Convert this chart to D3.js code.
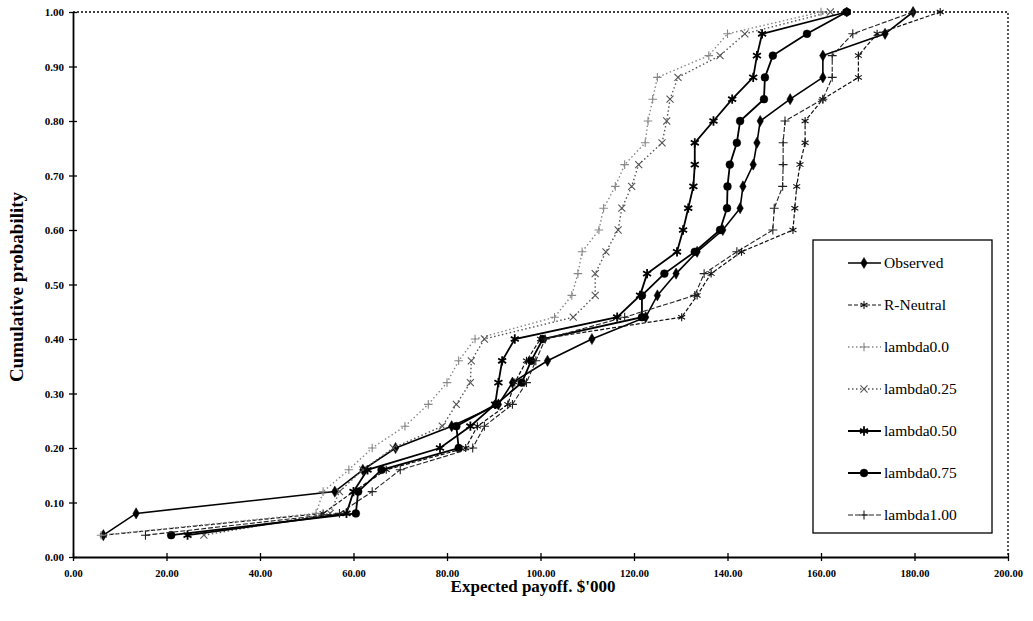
<!DOCTYPE html>
<html lang="en">
<head>
  <meta charset="UTF-8">
  <title>Cumulative probability</title>
  <style>
    body { margin: 0; background: #fff; }
    text { font-family: "Liberation Serif", "DejaVu Serif", serif; fill: #000; }
  </style>
</head>
<body>
  <svg id="svg" width="1033" height="621"></svg>

  <script src="https://d3js.org/d3.v7.min.js"></script>
  <script>
    // cumulative probability levels (same for every series)
    const probs = [0.04, 0.08, 0.12, 0.16, 0.20, 0.24, 0.28, 0.32, 0.36, 0.40, 0.44, 0.48, 0.52,
      0.56, 0.60, 0.64, 0.68, 0.72, 0.76, 0.80, 0.84, 0.88, 0.92, 0.96, 1.00]

    // expected payoff ($'000) at each level
    const observed = [6.5, 13.5, 56, 62, 69, 81, 91, 94, 101.5, 111, 122.5, 125, 129,
      133.5, 139, 142.7, 143.3, 145.5, 146.3, 147, 153.4, 160.4, 160.4, 173.7, 179.7]
    const rNeutral = [6.5, 53.5, 60, 67, 84, 86.5, 93, 94.5, 97, 100, 130.2, 133.5, 136.5,
      143, 154, 154.4, 154.8, 155.5, 156.6, 156.6, 160.4, 168, 168, 172, 185.5]
    const lambda00 = [6, 52, 53.5, 59, 64, 71, 76, 80, 82.5, 86, 103, 106.7, 108,
      108.9, 112.5, 113.5, 116, 118, 122.4, 123, 124, 125, 136, 140, 160]
    const lambda025 = [28, 55, 57, 62, 68.5, 79, 82, 85, 85.2, 88, 107, 111.7, 111.7,
      114, 116.6, 117.4, 119.5, 121, 126, 127, 127.7, 129.4, 138.4, 143.7, 162]
    const lambda050 = [24.5, 58.5, 60, 63, 78.5, 85, 90.3, 91, 91.8, 94.5, 116.4, 121.3, 122.8,
      129.2, 130.5, 131.6, 132.7, 133, 133, 137, 141, 145.5, 146.3, 147.4, 165.5]
    const lambda075 = [21, 60.5, 61, 66, 82.5, 82, 90.5, 96, 98, 100.5, 121.7, 121.7, 126.5,
      133, 138.4, 139.9, 140, 140.5, 142, 142.7, 147.8, 148, 149.7, 157, 165.5]
    const lambda100 = [15.5, 57, 64, 70, 85.5, 88, 94, 97, 99, 101, 118, 133, 135,
      142, 149.7, 150, 151.8, 151.9, 151.9, 152.3, 160.4, 162.4, 162.4, 166.8, 179.7]

    const xTicks = [0, 20, 40, 60, 80, 100, 120, 140, 160, 180, 200]
    const yTicks = [0, 0.1, 0.2, 0.3, 0.4, 0.5, 0.6, 0.7, 0.8, 0.9, 1.0]

    const series = [
      { name: "Observed", values: observed, color: "#000", width: 1.6, dash: null, symbol: d3.symbolDiamond, size: 36, filled: true },
      { name: "R-Neutral", values: rNeutral, color: "#111", width: 1.2, dash: "4,2", symbol: d3.symbolAsterisk, size: 45, filled: false },
      { name: "lambda0.0", values: lambda00, color: "#888", width: 1.4, dash: "1.5,2.5", symbol: d3.symbolPlus, size: 26, filled: false },
      { name: "lambda0.25", values: lambda025, color: "#555", width: 1.4, dash: "1.5,2.5", symbol: d3.symbolTimes, size: 34, filled: false },
      { name: "lambda0.50", values: lambda050, color: "#000", width: 1.8, dash: null, symbol: d3.symbolAsterisk, size: 60, filled: false },
      { name: "lambda0.75", values: lambda075, color: "#000", width: 1.8, dash: null, symbol: d3.symbolCircle, size: 48, filled: true },
      { name: "lambda1.00", values: lambda100, color: "#222", width: 1.1, dash: "5,2", symbol: d3.symbolPlus, size: 28, filled: false }
    ]

    const svg = d3.select("#svg")
    const mLeft = 73, mRight = 1008, mTop = 12, mBottom = 557

    const x = d3.scaleLinear().domain([0, 200]).range([mLeft, mRight])
    const y = d3.scaleLinear().domain([0, 1]).range([mBottom, mTop])

    // dotted frame top / right
    svg.append("path")
      .attr("d", `M${mLeft},${mTop}H${mRight}V${mBottom}`)
      .attr("fill", "none")
      .attr("stroke", "#000")
      .attr("stroke-width", 1.3)
      .attr("stroke-dasharray", "2,2")

    // axes, ticks crossing the axis line
    const xAxis = svg.append("g")
      .attr("transform", `translate(0,${mBottom})`)
      .call(d3.axisBottom(x).tickValues(xTicks).tickFormat(d3.format(".2f")).tickSize(4).tickSizeOuter(0))
    xAxis.selectAll(".tick line").attr("y1", -4).attr("stroke-width", 1.3)
    xAxis.select(".domain").attr("stroke-width", 1.8)
    xAxis.selectAll("text").attr("dy", "1.2em").style("font-size", "10.5px").style("font-weight", "bold")

    const yAxis = svg.append("g")
      .attr("transform", `translate(${mLeft},0)`)
      .call(d3.axisLeft(y).tickValues(yTicks).tickFormat(d3.format(".2f")).tickSize(4).tickSizeOuter(0))
    yAxis.selectAll(".tick line").attr("x1", 4).attr("x2", -4).attr("stroke-width", 1.3)
    yAxis.select(".domain").attr("stroke-width", 1.8)
    yAxis.selectAll("text").attr("x", -9).style("font-size", "11px").style("font-weight", "bold")

    // axis titles
    svg.append("text")
      .attr("x", 533).attr("y", 592)
      .attr("text-anchor", "middle")
      .style("font-size", "17px").style("font-weight", "bold")
      .text("Expected  payoff. $'000")
    svg.append("text")
      .attr("transform", "translate(23,287) rotate(-90)")
      .attr("text-anchor", "middle")
      .style("font-size", "19px").style("font-weight", "bold")
      .text("Cumulative probability")

    const line = d3.line()
      .x(d => x(d[0]))
      .y(d => y(d[1]))

    function drawMarker(sel, s) {
      sel.attr("d", d3.symbol().type(s.symbol).size(s.size))
        .attr("fill", s.filled ? s.color : "none")
        .attr("stroke", s.color)
        .attr("stroke-width", s.filled ? 0.5 : (s.name == "lambda0.50" ? 1.8 : 1.1))
    }

    series.forEach(s => {
      const pts = s.values.map((v, i) => [v, probs[i]])
      svg.append("path")
        .datum(pts)
        .attr("d", line)
        .attr("fill", "none")
        .attr("stroke", s.color)
        .attr("stroke-width", s.width)
        .attr("stroke-dasharray", s.dash)
      svg.append("g").selectAll("path")
        .data(pts)
        .enter()
        .append("path")
        .attr("transform", d => `translate(${x(d[0])},${y(d[1])})`)
        .call(drawMarker, s)
    })

    // legend
    const lg = svg.append("g")
    lg.append("rect")
      .attr("x", 813).attr("y", 240)
      .attr("width", 179).attr("height", 293)
      .attr("fill", "#fff").attr("stroke", "#000").attr("stroke-width", 1.3)

    series.forEach((s, i) => {
      const ly = 263 + i * 42
      lg.append("line")
        .attr("x1", 848).attr("x2", 881)
        .attr("y1", ly).attr("y2", ly)
        .attr("stroke", s.color)
        .attr("stroke-width", s.width)
        .attr("stroke-dasharray", s.dash)
      lg.append("path")
        .attr("transform", `translate(864,${ly})`)
        .call(drawMarker, s)
      lg.append("text")
        .attr("x", 884).attr("y", ly + 5)
        .style("font-size", "15.5px")
        .text(s.name)
    })
  </script>
</body>
</html>
